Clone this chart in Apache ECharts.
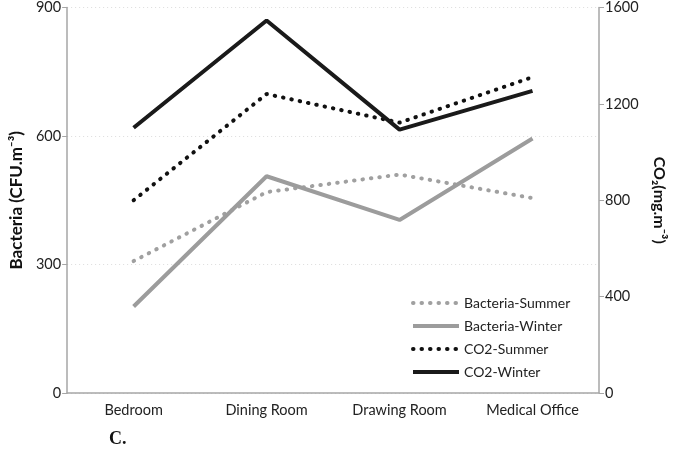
<!DOCTYPE html>
<html><head><meta charset="utf-8">
<script src="https://cdn.jsdelivr.net/npm/echarts@6/dist/echarts.min.js"></script>
<style>html,body{margin:0;padding:0;background:#fff}#c{width:675px;height:476px}</style>
</head><body><div id="c"></div>
<script>
const categories = ['Bedroom', 'Dining Room', 'Drawing Room', 'Medical Office'];
const bacteriaSummer = [308, 469, 510, 455];
const bacteriaWinter = [202, 506, 404, 594];
const co2Summer = [800, 1241, 1122, 1311];
const co2Winter = [1101, 1546, 1093, 1254];
const leftTicks = [0, 300, 600, 900];
const rightTicks = [0, 400, 800, 1200, 1600];

const font = 'Lato, "Open Sans", sans-serif';
const axisGray = '#a6a6a6';
const chart = echarts.init(document.getElementById('c'));
chart.setOption({
  animation: false,
  title: {
    text: 'C.', left: 104, top: 425,
    textStyle: { fontFamily: '"Liberation Serif", serif', fontWeight: 'bold', fontSize: 18, color: '#111' }
  },
  grid: { left: 59, right: 72, top: 5, bottom: 83 },
  legend: {
    orient: 'vertical', left: 406, top: 291, itemGap: 9, itemWidth: 46, itemHeight: 14,
    itemStyle: { opacity: 0 },
    lineStyle: { width: 4 },
    textStyle: { fontFamily: font, fontSize: 14, color: '#222' },
    data: ['Bacteria-Summer', 'Bacteria-Winter', 'CO2-Summer', 'CO2-Winter']
  },
  xAxis: {
    type: 'category', data: categories, boundaryGap: true,
    axisLine: { lineStyle: { color: axisGray, width: 1.5 } },
    axisTick: { length: 5, lineStyle: { color: axisGray } },
    axisLabel: { fontFamily: font, fontSize: 14.5, color: '#222', margin: 10 }
  },
  yAxis: [{
    type: 'value', min: leftTicks[0], max: leftTicks[leftTicks.length - 1], interval: 300,
    name: 'Bacteria (CFU.m⁻³)', nameLocation: 'middle', nameGap: 42, nameRotate: 90,
    nameTextStyle: { fontFamily: font, fontSize: 17, fontWeight: 'bold', color: '#111' },
    axisLine: { show: true, lineStyle: { color: axisGray, width: 1.5 } },
    axisTick: { show: true, length: 5, lineStyle: { color: axisGray } },
    axisLabel: { fontFamily: font, fontSize: 14.5, color: '#222', margin: 6, formatter: v => String(v) },
    splitLine: { show: true, lineStyle: { color: '#dcdcdc', type: [1, 3] } }
  }, {
    type: 'value', position: 'right', min: rightTicks[0], max: rightTicks[rightTicks.length - 1], interval: 400,
    name: 'CO₂(mg.m⁻³)', nameLocation: 'middle', nameGap: 52, nameRotate: -90,
    nameTextStyle: { fontFamily: font, fontSize: 16, fontWeight: 'bold', color: '#111' },
    axisLine: { show: true, lineStyle: { color: axisGray, width: 1.5 } },
    axisTick: { show: true, length: 5, lineStyle: { color: axisGray } },
    axisLabel: { fontFamily: font, fontSize: 14.5, color: '#222', margin: 6, formatter: v => String(v) },
    splitLine: { show: false }
  }],
  series: [{
    name: 'Bacteria-Summer', type: 'line', yAxisIndex: 0, data: bacteriaSummer, symbol: 'none',
    itemStyle: { color: '#a0a0a0' },
    lineStyle: { color: '#a0a0a0', width: 4, type: [0.5, 8], cap: 'round' }
  }, {
    name: 'Bacteria-Winter', type: 'line', yAxisIndex: 0, data: bacteriaWinter, symbol: 'none',
    itemStyle: { color: '#9c9c9c' },
    lineStyle: { color: '#9c9c9c', width: 4 }
  }, {
    name: 'CO2-Summer', type: 'line', yAxisIndex: 1, data: co2Summer, symbol: 'none',
    itemStyle: { color: '#111' },
    lineStyle: { color: '#111', width: 4, type: [0.5, 8], cap: 'round' }
  }, {
    name: 'CO2-Winter', type: 'line', yAxisIndex: 1, data: co2Winter, symbol: 'none',
    itemStyle: { color: '#1a1a1a' },
    lineStyle: { color: '#1a1a1a', width: 4 }
  }]
});
</script></body></html>
